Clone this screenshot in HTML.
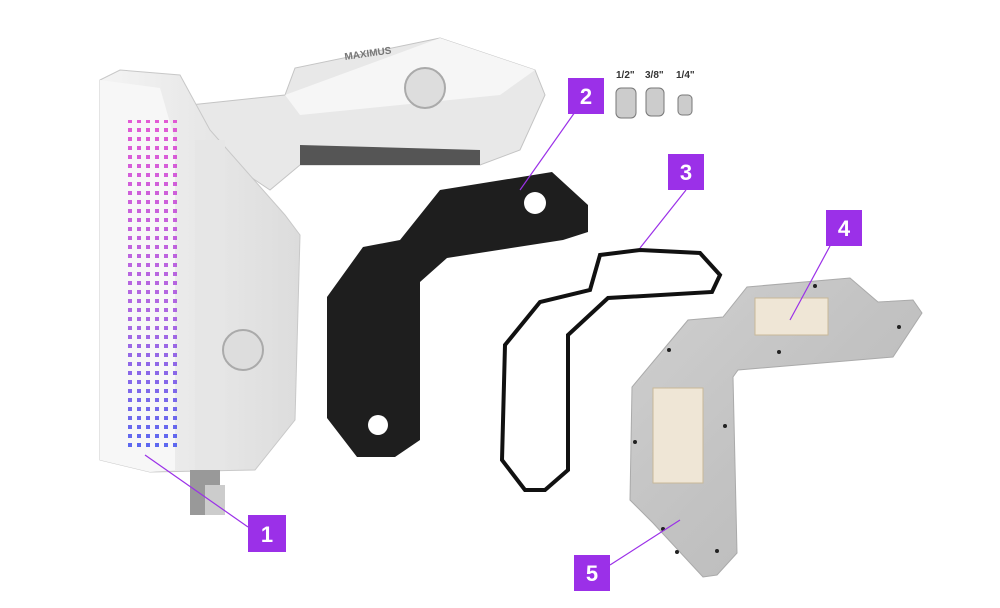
<!DOCTYPE html>
<html><head><meta charset="utf-8"><style>
html,body{margin:0;padding:0;background:#fff;}
svg{display:block;}
text{font-family:"Liberation Sans",sans-serif;}
</style></head><body>
<svg width="1000" height="608" viewBox="0 0 1000 608" xmlns="http://www.w3.org/2000/svg">
<defs>
<linearGradient id="wg" x1="0" x2="1"><stop offset="0" stop-color="#f4f4f4"/><stop offset="1" stop-color="#dcdcdc"/></linearGradient>
<linearGradient id="mg" x1="0" x2="1" y1="0" y2="1"><stop offset="0" stop-color="#d0d0d0"/><stop offset="0.5" stop-color="#c2c2c2"/><stop offset="1" stop-color="#b8b8b8"/></linearGradient>
<linearGradient id="led" x1="0" x2="0" y1="0" y2="1"><stop offset="0" stop-color="#e040d0"/><stop offset="0.6" stop-color="#a050e0"/><stop offset="1" stop-color="#4050f0"/></linearGradient>
<pattern id="dp" width="9" height="9" patternUnits="userSpaceOnUse"><rect x="2" y="2" width="4" height="4" fill="#fff"/></pattern>
<mask id="dm"><rect x="0" y="0" width="1000" height="608" fill="url(#dp)"/></mask>
</defs>
<!-- top block -->
<polygon points="190,105 285,95 295,68 440,38 535,70 545,95 520,150 480,165 300,165 270,190 210,150" fill="#e8e8e8" stroke="#c4c4c4"/>
<polygon points="285,95 440,38 535,70 500,95 300,115" fill="#f6f6f6"/>
<polygon points="300,145 480,150 480,165 300,165" fill="#555"/>
<circle cx="425" cy="88" r="20" fill="#ddd" stroke="#aaa" stroke-width="2"/>
<text x="345" y="60" font-size="10" font-weight="bold" fill="#777" transform="rotate(-8 345 60)">MAXIMUS</text>
<!-- left block -->
<polygon points="100,80 120,70 180,75 210,130 285,215 300,235 295,420 255,470 150,472 100,460" fill="url(#wg)" stroke="#c8c8c8"/>
<polygon points="100,80 160,88 175,140 175,470 150,472 100,460" fill="#f7f7f7"/>
<rect x="195" y="140" width="30" height="330" fill="#e6e6e6"/>
<rect x="128" y="120" width="52" height="330" fill="url(#led)" opacity="0.85" mask="url(#dm)"/>
<circle cx="243" cy="350" r="20" fill="#ddd" stroke="#aaa" stroke-width="2"/>
<rect x="190" y="470" width="30" height="45" fill="#999"/>
<rect x="205" y="485" width="20" height="30" fill="#ccc"/>
<!-- black gasket -->
<polygon points="440,190 552,172 588,205 588,232 563,240 447,258 420,282 420,440 395,457 357,457 327,418 327,297 363,247 400,240" fill="#1e1e1e"/>
<circle cx="535" cy="203" r="11" fill="#fff"/>
<circle cx="378" cy="425" r="10" fill="#fff"/>
<!-- outline gasket -->
<polygon points="640,250 700,253 720,275 712,292 608,298 568,335 568,470 545,490 525,490 502,460 505,345 540,302 590,290 600,255" fill="none" stroke="#111" stroke-width="4"/>
<!-- plate -->
<polygon points="747,287 850,278 878,302 913,300 922,313 893,357 738,370 733,377 737,553 717,575 703,577 653,523 630,500 632,387 688,320 723,317" fill="url(#mg)" stroke="#aaa"/>
<rect x="755" y="298" width="73" height="37" fill="#efe6d6" stroke="#c8b898"/>
<rect x="653" y="388" width="50" height="95" fill="#efe6d6" stroke="#c8b898"/>
<g fill="#222"><circle cx="815" cy="286" r="2"/><circle cx="899" cy="327" r="2"/><circle cx="779" cy="352" r="2"/><circle cx="669" cy="350" r="2"/><circle cx="725" cy="426" r="2"/><circle cx="635" cy="442" r="2"/><circle cx="663" cy="529" r="2"/><circle cx="677" cy="552" r="2"/><circle cx="717" cy="551" r="2"/></g>
<!-- fittings -->
<text x="616" y="78" font-size="10" font-weight="bold" fill="#333">1/2"</text>
<text x="645" y="78" font-size="10" font-weight="bold" fill="#333">3/8"</text>
<text x="676" y="78" font-size="10" font-weight="bold" fill="#333">1/4"</text>
<rect x="616" y="88" width="20" height="30" rx="5" fill="#ccc" stroke="#777"/>
<rect x="646" y="88" width="18" height="28" rx="5" fill="#ccc" stroke="#777"/>
<rect x="678" y="95" width="14" height="20" rx="4" fill="#ccc" stroke="#777"/>
<!-- leader lines -->
<g stroke="#9b30e8" stroke-width="1.2">
<line x1="248" y1="527" x2="145" y2="455"/>
<line x1="575" y1="112" x2="520" y2="190"/>
<line x1="686" y1="190" x2="640" y2="248"/>
<line x1="830" y1="246" x2="790" y2="320"/>
<line x1="610" y1="565" x2="680" y2="520"/>
</g>
<g fill="#9b30e8">
<rect x="248" y="515" width="38" height="37"/>
<rect x="568" y="78" width="36" height="36"/>
<rect x="668" y="154" width="36" height="36"/>
<rect x="826" y="210" width="36" height="36"/>
<rect x="574" y="555" width="36" height="36"/>
</g>
<g fill="#fff" font-size="22" font-weight="bold" text-anchor="middle">
<text x="267" y="542">1</text>
<text x="586" y="104">2</text>
<text x="686" y="180">3</text>
<text x="844" y="236">4</text>
<text x="592" y="581">5</text>
</g>
</svg>
</body></html>
